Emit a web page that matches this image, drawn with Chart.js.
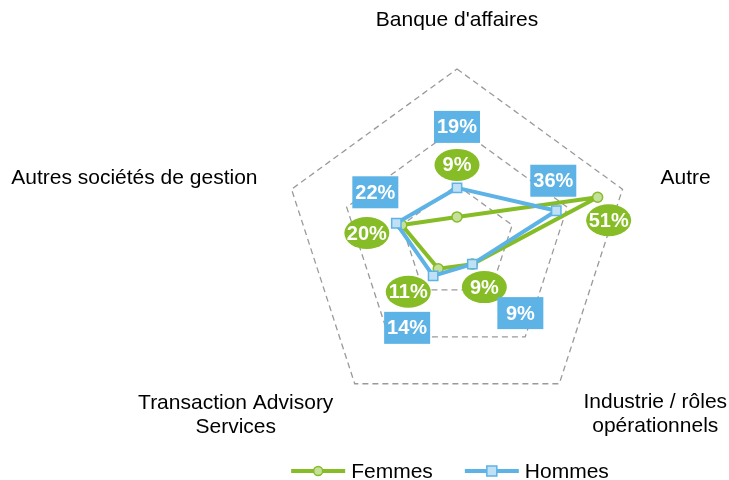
<!DOCTYPE html>
<html>
<head>
<meta charset="utf-8">
<script src="https://cdn.jsdelivr.net/npm/chart.js@4.4.1/dist/chart.umd.min.js"></script>
<style>
    html, body { margin: 0; padding: 0; background: #fff; }
    #wrap { width: 729px; height: 480px; position: relative; }
</style>
</head>
<body>
<div id="wrap"><canvas id="myChart"></canvas></div>
<script>
var categories = [
    "Banque d'affaires",
    "Autre",
    ["Industrie / rôles", "opérationnels"],
    ["Transaction Advisory", "Services"],
    "Autres sociétés de gestion",
];
var femmes = [9, 51, 9, 11, 20];
var hommes = [19, 36, 9, 14, 22];
var scaleMax = 60;
var scaleStep = 20;

var green = "#86BC25";
var greenLight = "#C5E09A";
var blue = "#5DB3E5";
var blueLight = "#BFE0F5";
var font = "'Liberation Sans', Arial, sans-serif";

// where each data label sits, relative to its point (px)
var femmesLabelOffset = [[0, -52], [11, 23], [12, 23], [-30, 23], [-35, 8]];
var hommesLabelOffset = [[0, -61], [-3, -30], [48, 49], [-26, 52], [-21, -31]];

// category labels, relative to the outer vertex
var catLabelPos = [
    { dx: 0, dy: -49, align: "center" },
    { dx: 38, dy: -11, align: "left" },
    { dx: 96, dy: 18, align: "center" },
    { dx: -119, dy: 19, align: "center" },
    { dx: -34, dy: -11, align: "right" },
];

var radarExtras = {
    id: "radarExtras",
    afterDraw: function (chart) {
        var ctx = chart.ctx;
        var scale = chart.scales.r;
        ctx.save();

        // category labels
        ctx.fillStyle = "#000";
        ctx.font = "21px " + font;
        ctx.textBaseline = "middle";
        categories.forEach(function (cat, i) {
            var p = scale.getPointPosition(i, scale.drawingArea);
            var pos = catLabelPos[i];
            var lines = Array.isArray(cat) ? cat : [cat];
            ctx.textAlign = pos.align;
            lines.forEach(function (line, j) {
                ctx.fillText(line, p.x + pos.dx, p.y + pos.dy + j * 24);
            });
        });

        // data labels
        var offsets = [femmesLabelOffset, hommesLabelOffset];
        ctx.font = "bold 20px " + font;
        ctx.textAlign = "center";
        chart.data.datasets.forEach(function (ds, d) {
            var meta = chart.getDatasetMeta(d);
            meta.data.forEach(function (pt, i) {
                var cx = pt.x + offsets[d][i][0];
                var cy = pt.y + offsets[d][i][1];
                ctx.fillStyle = ds.borderColor;
                if (ds.pointStyle === "circle") {
                    ctx.beginPath();
                    ctx.ellipse(cx, cy, 22.5, 16, 0, 0, Math.PI * 2);
                    ctx.fill();
                } else {
                    ctx.fillRect(cx - 23, cy - 16, 46, 32);
                }
                ctx.fillStyle = "#fff";
                ctx.fillText(ds.data[i] + "%", cx, cy + 1);
            });
        });

        // legend
        ctx.font = "21px " + font;
        ctx.textAlign = "left";
        var widths = chart.data.datasets.map(function (ds) {
            return 60 + ctx.measureText(ds.label).width;
        });
        var total = widths[0] + 32 + widths[1];
        var x = scale.xCenter - 7 - total / 2;
        var y = chart.height - 9;
        chart.data.datasets.forEach(function (ds, d) {
            ctx.strokeStyle = ds.borderColor;
            ctx.lineWidth = 4;
            ctx.beginPath();
            ctx.moveTo(x, y);
            ctx.lineTo(x + 54, y);
            ctx.stroke();
            ctx.fillStyle = ds.pointBackgroundColor;
            ctx.lineWidth = 1.5;
            ctx.beginPath();
            if (ds.pointStyle === "circle") {
                ctx.arc(x + 27, y, 4.5, 0, Math.PI * 2);
            } else {
                ctx.rect(x + 22, y - 5, 10, 10);
            }
            ctx.fill();
            ctx.stroke();
            ctx.fillStyle = "#000";
            ctx.fillText(ds.label, x + 60, y + 1);
            x += widths[d] + 32;
        });

        ctx.restore();
    },
};

var ctx = document.getElementById("myChart").getContext("2d");
var myChart = new Chart(ctx, {
    type: "radar",
    data: {
        labels: categories,
        datasets: [
            {
                label: "Femmes",
                data: femmes,
                borderColor: green,
                backgroundColor: "transparent",
                fill: false,
                borderWidth: 4,
                borderJoinStyle: "round",
                pointStyle: "circle",
                pointRadius: 5,
                pointBackgroundColor: greenLight,
                pointBorderColor: green,
                pointBorderWidth: 1.5,
                order: 1,
            },
            {
                label: "Hommes",
                data: hommes,
                borderColor: blue,
                backgroundColor: "transparent",
                fill: false,
                borderWidth: 4,
                borderJoinStyle: "round",
                pointStyle: "rect",
                pointRadius: 6.6,
                pointBackgroundColor: blueLight,
                pointBorderColor: blue,
                pointBorderWidth: 1.5,
                order: 0,
            },
        ],
    },
    options: {
        responsive: true,
        maintainAspectRatio: false,
        animation: false,
        layout: { padding: { left: 283, right: 98, top: 25, bottom: 19 } },
        plugins: {
            legend: { display: false },
            tooltip: { enabled: false },
        },
        scales: {
            r: {
                min: 0,
                max: scaleMax,
                ticks: { display: false, stepSize: scaleStep },
                angleLines: { display: false },
                pointLabels: { display: false },
                grid: { color: "#9A9A9A", lineWidth: 1.3 },
                border: { dash: [6, 4] },
            },
        },
    },
    plugins: [radarExtras],
});
</script>
</body>
</html>
